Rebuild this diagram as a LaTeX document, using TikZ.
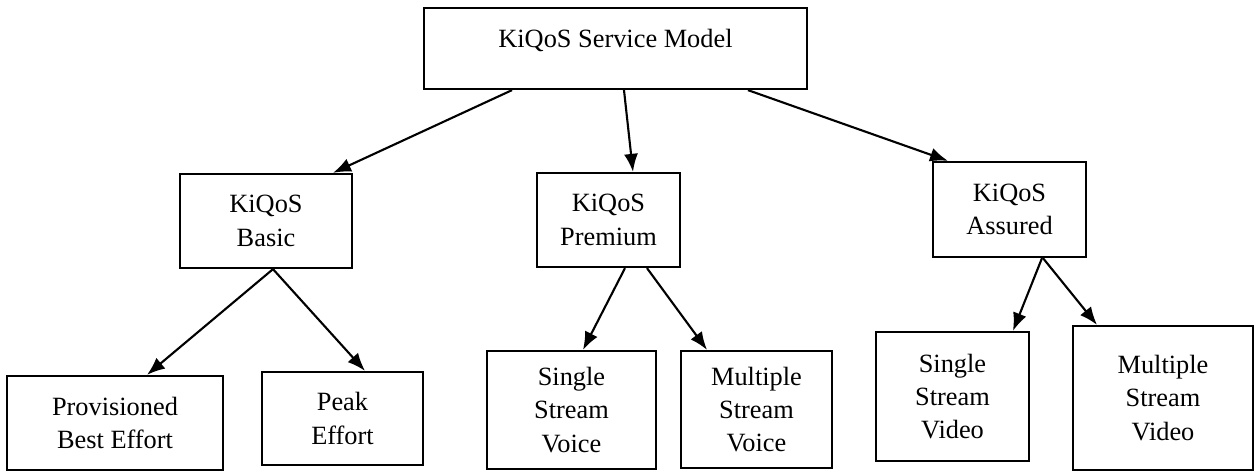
\documentclass[tikz,border=0pt]{standalone}
\usepackage{fontspec}
\setmainfont{Liberation Serif}
\usetikzlibrary{arrows.meta, positioning, calc}

\begin{document}
\begin{tikzpicture}[x=0.02cm, y=-0.02cm,
  box/.style={rectangle, draw, line width=1.3pt, align=center, font=\fontsize{15}{19}\selectfont},
  link/.style={-{Latex[length=3.6mm, width=2.8mm]}, line width=1.2pt}]
\useasboundingbox (0,0) rectangle (1255,476);

% top level
\node[box, minimum width=7.66cm, minimum height=1.62cm, text depth=0.4cm] (model) at (615.5,48.5) {KiQoS Service Model};

% service classes
\node[box, minimum width=3.44cm, minimum height=1.88cm] (basic) at (266,221) {KiQoS\\Basic};
\node[box, minimum width=2.86cm, minimum height=1.88cm] (premium) at (608.5,220) {KiQoS\\Premium};
\node[box, minimum width=3.06cm, minimum height=1.9cm] (assured) at (1009.5,209.5) {KiQoS\\Assured};

% leaves
\node[box, minimum width=4.32cm, minimum height=1.88cm] (prov) at (115,423) {Provisioned\\Best Effort};
\node[box, minimum width=3.22cm, minimum height=1.86cm] (peak) at (342.5,418.5) {Peak\\Effort};
\node[box, minimum width=3.38cm, minimum height=2.36cm] (ssvoice) at (571.5,410) {Single\\Stream\\Voice};
\node[box, minimum width=3.02cm, minimum height=2.34cm] (msvoice) at (756.5,409.5) {Multiple\\Stream\\Voice};
\node[box, minimum width=3.06cm, minimum height=2.58cm] (ssvideo) at (952.5,396.5) {Single\\Stream\\Video};
\node[box, minimum width=3.6cm, minimum height=2.88cm] (msvideo) at (1163,398) {Multiple\\Stream\\Video};

\draw[link] ([xshift=-2.07cm]model.south) -- ([xshift=1.34cm]basic.north);
\draw[link] ([xshift=0.17cm]model.south) -- ([xshift=0.49cm]premium.north);
\draw[link] ([xshift=2.65cm]model.south) -- ([xshift=-1.23cm]assured.north);

\draw[link] ([xshift=0.14cm]basic.south) -- ([xshift=0.64cm]prov.north);
\draw[link] ([xshift=0.14cm]basic.south) -- ([xshift=0.45cm]peak.north);
\draw[link] ([xshift=0.33cm]premium.south) -- ([xshift=0.23cm]ssvoice.north);
\draw[link] ([xshift=0.77cm]premium.south) -- ([xshift=-0.99cm]msvoice.north);
\draw[link] ([xshift=0.65cm]assured.south) -- ([xshift=1.21cm]ssvideo.north);
\draw[link] ([xshift=0.67cm]assured.south) -- ([xshift=-1.32cm]msvideo.north);
\end{tikzpicture}
\end{document}
